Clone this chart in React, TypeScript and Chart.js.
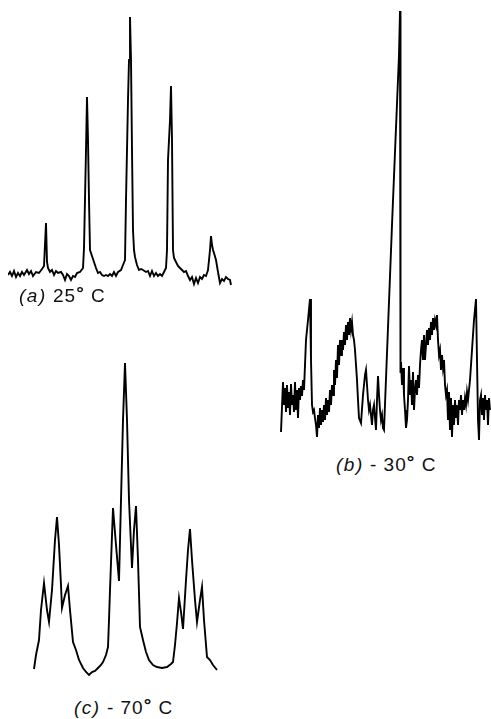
import React, { useEffect, useRef } from "react";
import { Chart, registerables } from "chart.js";

Chart.register(...registerables);

// (a) 25 °C — frequency (arbitrary units) and intensity
const aFreq = [0,2,4,6,8,10,12,14,16,19,21,23,25,28,31,34,36,38,39,40,42,44,46,48,50,53,55,57,59,61,63,65,67,69,72,75,76,78,79,80,81,82,84,86,88,90,92,94,96,98,100,102,104,106,108,110,113,115,117,118,120,121,122,123,124,125,126,127,129,131,133,135,138,140,142,144,146,148,150,152,154,156,158,159,160,162,163,164,165,166,168,170,172,174,176,178,180,182,184,186,188,190,192,194,196,198,200,202,203,204,205,206,208,210,212,214,216,218,220,222,223];
const aIntensity = [5,8,4,9,3,7,4,8,5,10,6,9,4,8,7,11,14,57,18,12,8,10,5,9,7,8,5,0,6,4,0,4,3,7,8,12,32,130,183,140,80,30,24,18,12,7,8,5,4,5,4,6,4,8,4,8,10,15,20,80,180,220,263,220,130,50,30,23,15,10,11,10,8,9,4,9,4,7,4,6,4,8,12,30,120,160,194,140,30,22,18,14,12,10,8,9,4,0,3,-4,2,-3,3,1,5,4,10,30,44,35,30,27,20,8,-3,1,-1,3,1,0,-5];

// (b) -30 °C
const bFreq = [1,3,4,5,6,7,8,9,10,11,12,13,14,15,16,17,18,19,20,21,22,23,24,26,28,30,31,32,33,34,35,36,37,38,39,40,41,42,43,44,45,46,47,48,49,50,51,52,53,54,55,56,57,58,59,60,61,62,63,64,65,66,67,68,69,70,71,72,73,74,75,76,77,78,79,81,83,85,86,87,88,89,90,91,92,93,94,95,96,97,98,99,100,101,102,103,104,112,119,120,120.5,121,122,123,124,125,126,127,128,129,130,131,132,133,134,135,136,137,138,139,140,141,142,143,144,145,146,147,148,149,150,151,152,153,154,155,156,157,158,159,160,161,162,163,164,165,166,167,168,169,170,171,172,173,174,175,176,177,178,179,180,181,182,183,184,185,186,187,188,190,192,194,196,197,198,199,200,201,202,203,204,205,206,207,208,209,210];
const bIntensity = [13,63,40,57,33,60,37,53,30,61,40,50,33,63,35,55,27,57,45,59,49,65,55,105,125,146,85,40,33,35,27,20,8,30,17,37,20,35,23,40,25,47,30,45,33,55,40,60,50,75,60,85,67,100,80,105,90,105,95,113,100,120,105,123,110,127,115,123,110,105,95,80,65,45,27,22,50,70,75,60,45,35,40,30,20,35,40,27,15,45,69,50,35,25,30,17,15,220,390,434,72,83,60,77,50,35,17,25,45,79,50,65,40,73,35,55,65,50,70,57,80,95,105,85,110,85,100,115,100,117,105,123,110,127,115,125,120,130,105,90,95,75,90,77,85,60,50,55,25,53,15,47,8,40,20,45,27,40,20,45,35,50,30,45,35,47,40,53,45,65,95,125,146,85,25,5,45,50,30,47,25,50,35,45,20,47,35];

// (c) -70 °C
const cFreq = [4,6,9,11,14,17,19,22,25,27,29,31,32,35,38,40,43,46,49,53,56,59,62,65,68,71,73,76,78,79,80,83,86,89,91,93,95,97,99,102,104,106,108,110,113,116,119,123,127,132,137,141,143,145,147,149,151,153,156,158,160,162,165,167,170,172,174,177,180,183,187];
const cIntensity = [11,25,40,70,97,70,58,90,140,163,135,95,72,85,94,70,38,30,20,12,8,5,8,9,12,15,18,25,33,60,90,172,135,99,180,260,317,260,180,112,150,174,120,53,40,28,20,15,13,12,13,16,18,35,57,82,68,51,100,130,151,120,80,58,80,93,60,23,20,15,10];

type PanelProps = {
  freq: number[];
  intensity: number[];
  left: number;
  top: number;
  width: number;
  height: number;
  xMin: number;
  xMax: number;
  yMin: number;
  yMax: number;
};

function Panel(p: PanelProps) {
  const ref = useRef<HTMLCanvasElement | null>(null);
  useEffect(() => {
    if (!ref.current) return;
    const chart = new Chart(ref.current, {
      type: "line",
      data: {
        datasets: [
          {
            data: p.freq.map((f, i) => ({ x: f, y: p.intensity[i] })),
            borderColor: "#000",
            borderWidth: 1.9,
            pointRadius: 0,
            tension: 0,
            fill: false,
            clip: false as any,
          },
        ],
      },
      options: {
        animation: false,
        responsive: false,
        maintainAspectRatio: false,
        layout: { padding: 0 },
        plugins: { legend: { display: false }, tooltip: { enabled: false }, title: { display: false } },
        scales: {
          x: { type: "linear", min: p.xMin, max: p.xMax, display: false },
          y: { type: "linear", min: p.yMin, max: p.yMax, display: false },
        },
      },
    });
    return () => chart.destroy();
  }, []);
  return (
    <canvas
      ref={ref}
      width={p.width}
      height={p.height}
      style={{ position: "absolute", left: p.left, top: p.top, width: p.width, height: p.height }}
    />
  );
}

const labelStyle: React.CSSProperties = {
  position: "absolute",
  fontFamily: "'Liberation Sans', Arial, sans-serif",
  fontSize: 19,
  lineHeight: "20px",
  letterSpacing: "1px",
  color: "#111",
  whiteSpace: "nowrap",
};

function Label({ tag, temp, left, top }: { tag: string; temp: string; left: number; top: number }) {
  return (
    <div style={{ ...labelStyle, left, top }}>
      <i style={{ letterSpacing: "1.5px" }}>{tag}</i> {temp}
      <span style={{ fontWeight: "bold", position: "relative", top: -3, lineHeight: 0 }}>°</span> C
    </div>
  );
}

export default function App() {
  return (
    <div style={{ position: "absolute", left: 0, top: 0, width: 491, height: 719, background: "#fff", overflow: "hidden" }}>
      <Panel freq={aFreq} intensity={aIntensity} left={8} top={10} width={224} height={280} xMin={0} xMax={224} yMin={-10} yMax={270} />
      <Panel freq={bFreq} intensity={bIntensity} left={280} top={5} width={211} height={440} xMin={0} xMax={211} yMin={0} yMax={440} />
      <Panel freq={cFreq} intensity={cIntensity} left={30} top={355} width={190} height={325} xMin={0} xMax={190} yMin={0} yMax={325} />
      <Label tag="(a)" temp="25" left={19} top={286} />
      <Label tag="(b)" temp="- 30" left={336} top={455} />
      <Label tag="(c)" temp="- 70" left={74} top={698} />
    </div>
  );
}
